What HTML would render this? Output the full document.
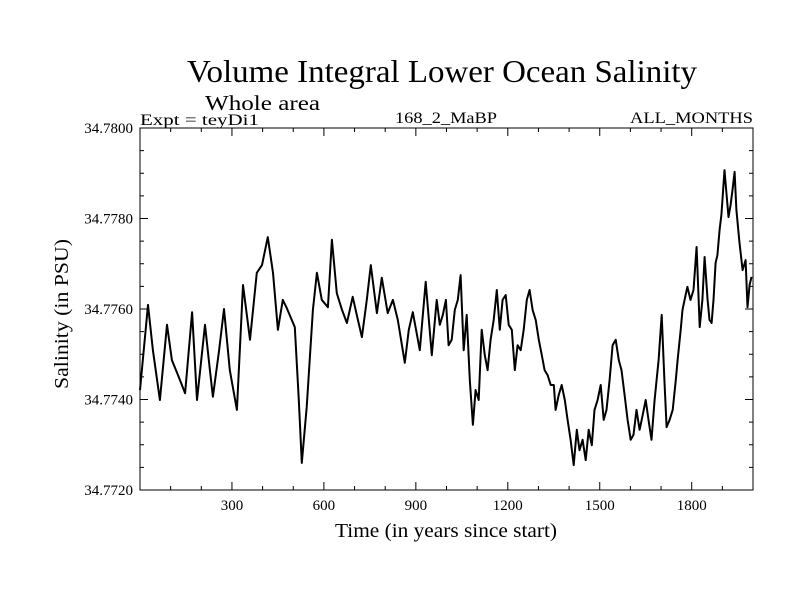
<!DOCTYPE html>
<html><head><meta charset="utf-8"><style>
body{margin:0;background:#fff}
svg text{font-family:"Liberation Serif",serif;fill:#000}
</style></head><body>
<svg id="chart" width="800" height="600" xmlns="http://www.w3.org/2000/svg">
<text x="442" y="82" font-size="32" text-anchor="middle" textLength="510" lengthAdjust="spacingAndGlyphs">Volume Integral Lower Ocean Salinity</text>
<text x="205" y="110" font-size="21" textLength="115" lengthAdjust="spacingAndGlyphs">Whole area</text>
<text x="140" y="125" font-size="16" textLength="119" lengthAdjust="spacingAndGlyphs">Expt = teyDi1</text>
<text x="446" y="123" font-size="16" text-anchor="middle" textLength="102" lengthAdjust="spacingAndGlyphs">168_2_MaBP</text>
<text x="753" y="123" font-size="16" text-anchor="end" textLength="123" lengthAdjust="spacingAndGlyphs">ALL_MONTHS</text>
<rect x="140" y="128" width="613" height="362" fill="none" stroke="#000" stroke-width="1"/>
<g id="axes"></g>
<path id="line" fill="none" stroke="#000" stroke-width="2" stroke-linejoin="round"/>
<text x="446" y="537" font-size="20" text-anchor="middle" textLength="222" lengthAdjust="spacingAndGlyphs">Time (in years since start)</text>
<text transform="translate(68,314) rotate(-90)" font-size="20" text-anchor="middle" textLength="150" lengthAdjust="spacingAndGlyphs">Salinity (in PSU)</text>
</svg>
<script>
const years=[0,26,42,65,88,104,124,147,170,186,212,228,238,258,274,293,316,336,359,381,398,417,434,450,466,479,505,518,528,544,564,577,593,613,626,642,659,675,694,711,724,740,753,773,789,808,825,841,864,877,890,913,932,952,968,978,
988,998,1007,1017,1027,1037,1046,1056,1066,1076,1086,1095,1105,1115,1125,1134,1144,1154,1164,1174,1183,1193,1203,1213,1223,1232,1242,1252,1262,1271,1281,1291,1301,1311,1320,1330,1340,1350,1356,1366,1376,1386,1395,1405,1415,1425,1434,1444,1454,1464,1474,1483,1493,1503,1513,1522,1532,1542,1552,1562,1571,1581,1591,1601,1610,1620,1630,1640,1650,1659,1669,1679,1692,1702,1711,1718,1728,1738,1748,1754,1764,1770,1780,1786,1796,1806,1816,1826,1835,1842,1852,1858,1865,1871,1878,1884,1891,1897,1907,1914,1920,1927,1933,1940,1946,1956,1966,1976,1982,1989,1995];
const salinity=[34.77421,34.77609,34.77509,34.77399,34.77565,34.77487,34.77454,34.77414,34.77593,34.77399,
34.77565,34.77465,34.77406,34.77509,34.77600,34.77465,34.77377,34.77653,34.77532,34.77680,
34.77697,34.77759,34.77680,34.77554,34.77620,34.77602,34.77560,34.77399,34.77260,34.77383,
34.77598,34.77680,34.77620,34.77604,34.77753,34.77635,34.77598,34.77569,34.77627,34.77576,
34.77538,34.77620,34.77697,34.77591,34.77669,34.77591,34.77620,34.77576,34.77481,34.77554,
34.77593,34.77509,34.77660,34.77498,34.77620,34.77565,
34.77587,34.77620,34.77520,34.77532,34.77598,34.77620,34.77675,34.77509,
34.77587,34.77443,34.77344,34.77421,34.77399,34.77554,34.77498,34.77465,34.77532,34.77576,
34.77642,34.77554,34.77620,34.77631,34.77565,34.77554,34.77465,34.77520,34.77509,34.77554,
34.77620,34.77642,34.77598,34.77576,34.77532,34.77498,34.77465,34.77454,34.77432,34.77432,
34.77377,34.77410,34.77432,34.77399,34.77355,34.77311,34.77255,34.77333,34.77288,34.77311,
34.77266,34.77333,34.77299,34.77377,34.77399,34.77432,34.77355,34.77377,34.77443,34.77520,
34.77532,34.77487,34.77465,34.77410,34.77355,34.77311,34.77322,34.77377,34.77333,34.77366,
34.77399,34.77355,34.77311,34.77399,34.77487,34.77587,34.77443,34.77339,34.77355,34.77377,
34.77443,34.77487,34.77554,34.77598,34.77631,34.77649,34.77620,34.77642,34.77737,34.77560,
34.77620,34.77715,34.77620,34.77576,34.77569,34.77620,34.77702,34.77719,34.77775,34.77808,
34.77907,34.77852,34.77803,34.77830,34.77863,34.77903,34.77819,34.77746,34.77686,34.77708,
34.77604,34.77653,34.77671];
const xTicks=[300,600,900,1200,1500,1800];
const yTicks=[34.7720,34.7740,34.7760,34.7780,34.7800];
const X0=140,X1=753,Y0=490,Y1=128;
const xs=v=>X0+(v-0)/(2000-0)*(X1-X0);
const ys=v=>Y0-(v-34.772)/(34.780-34.772)*(Y0-Y1);
const ns="http://www.w3.org/2000/svg";
const axes=document.getElementById('axes');
function ln(x1,y1,x2,y2,name){const l=document.createElementNS(ns,'line');
l.setAttribute('x1',x1);l.setAttribute('y1',y1);l.setAttribute('x2',x2);l.setAttribute('y2',y2);
l.setAttribute('stroke','#000');l.setAttribute('stroke-width','1');


axes.appendChild(l);}
function tx(x,y,s,anchor,name){const t=document.createElementNS(ns,'text');
t.setAttribute('x',x);t.setAttribute('y',y);t.setAttribute('font-size','15');t.setAttribute('text-anchor',anchor);t.textContent=s;


axes.appendChild(t);}
for(let v=100;v<2000;v+=100){const x=xs(v);const major=v%300===0;
ln(x,Y0,x,Y0-(major?8:4),'x-tick');ln(x,Y1,x,Y1+(major?8:4),'x-tick-top');}
xTicks.forEach(v=>tx(xs(v),510,String(v),'middle','x-tick-label'));
for(let i=0;i<=16;i++){const v=34.772+i*0.0005;const y=ys(v);const major=i%4===0;
ln(X0,y,X0+(major?8:4),y,'y-tick');ln(X1,y,X1-(major?8:4),y,'y-tick-right');}
yTicks.forEach(v=>tx(133,ys(v)+5,v.toFixed(4),'end','y-tick-label'));
let d='';
years.forEach((yr,i)=>{d+=(i?'L':'M')+xs(yr).toFixed(1)+' '+ys(salinity[i]).toFixed(1);});
document.getElementById('line').setAttribute('d',d);
</script>
</body></html>
